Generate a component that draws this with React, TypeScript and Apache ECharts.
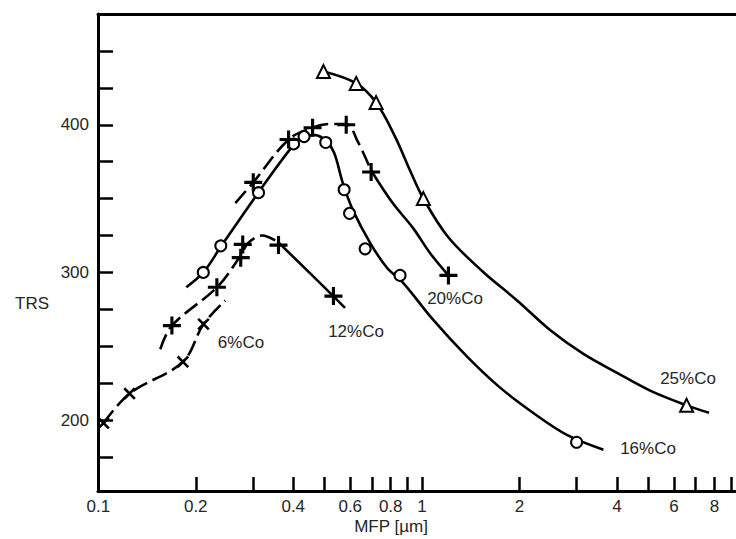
import React, { useEffect, useRef } from "react";
import * as echarts from "echarts";

// ---- axis ticks / labels ----
const X_TICKS = [0.2, 0.3, 0.4, 0.5, 0.6, 0.7, 0.8, 0.9, 1, 2, 3, 4, 5, 6, 7, 8, 9];
const X_LABELS = [0.1, 0.2, 0.4, 0.6, 0.8, 1, 2, 4, 6, 8];
const Y_TICKS = [175, 200, 225, 250, 275, 300, 325, 350, 375, 400, 425, 450];
const Y_LABELS = [200, 300, 400];

// ---- 6%Co (x markers, dashed) ----
const co6Points = [[0.1038, 198], [0.1249, 218], [0.1826, 239.5], [0.2113, 265]];
const co6Curve = [[0.1038, 198], [0.1249, 218], [0.1826, 239.5], [0.2113, 265], [0.2466, 281]];

// ---- 12%Co (+ markers) ----
const co12Points = [[0.1688, 264], [0.2324, 290], [0.2754, 310], [0.2793, 319], [0.3602, 318.5], [0.5324, 284]];
const co12Rise = [[0.1554, 248], [0.1688, 264], [0.2327, 290], [0.2744, 311], [0.2904, 320], [0.3207, 325], [0.3594, 320.5]];
const co12Fall = [[0.3594, 320.5], [0.5318, 284], [0.578, 276]];

// ---- 16%Co (circles, solid) ----
const co16Points = [[0.211, 300], [0.239, 318], [0.3125, 354], [0.401, 387], [0.432, 392], [0.504, 388], [0.5745, 356], [0.597, 340], [0.667, 316], [0.855, 298], [3.0, 185]];
const co16Curve = [[0.187, 290], [0.211, 300], [0.24, 318], [0.312, 354], [0.4, 386], [0.432, 392], [0.4675, 393], [0.5055, 389], [0.535, 381], [0.57, 360], [0.612, 342], [0.691, 320], [0.78, 303], [0.874, 293], [1.081, 268], [1.377, 243], [1.741, 222], [2.2, 205], [2.8, 190], [3.63, 180]];

// ---- 20%Co (+ markers) ----
const co20Points = [[0.301, 361], [0.387, 390], [0.459, 398], [0.583, 400], [0.696, 368], [1.206, 298]];
const co20Rise = [[0.265, 347], [0.301, 361], [0.387, 390], [0.458, 398], [0.52, 400.5], [0.583, 400.5], [0.635, 388], [0.696, 369]];
const co20Fall = [[0.696, 369], [0.808, 347.5], [0.938, 330], [1.059, 313], [1.206, 298]];

// ---- 25%Co (triangles, solid) ----
const co25Points = [[0.496, 436], [0.626, 428], [0.721, 415], [1.009, 350], [6.56, 210]];
const co25Curve = [[0.496, 436], [0.626, 428], [0.721, 415], [0.825, 392], [0.918, 369], [1.009, 350], [1.203, 324], [1.532, 301], [1.965, 281], [2.484, 261], [3.14, 245], [4.0, 232], [5.06, 220], [6.56, 210], [7.69, 205]];

const FONT = '"Liberation Sans", Arial, sans-serif';
const TXT = "#262626";
const PLUS = "path://M0,8.25H20V11.75H0Z M8.25,0H11.75V20H8.25Z";

function lineSeries(data: number[][], dashed: boolean) {
  return {
    type: "line",
    data,
    symbol: "none",
    smooth: 0.35,
    lineStyle: { color: "#000", width: 2.6, type: dashed ? [16, 6] : "solid" },
    z: 2,
  };
}

function markerSeries(data: number[][], symbol: string, size: number, hollow: boolean, rotate = 0) {
  return {
    type: "scatter",
    data,
    symbol,
    symbolSize: size,
    symbolRotate: rotate,
    itemStyle: hollow
      ? { color: "#fff", borderColor: "#000", borderWidth: 2, opacity: 1 }
      : { color: "#000", opacity: 1 },
    z: 3,
  };
}

export default function App() {
  const ref = useRef<HTMLDivElement>(null);
  useEffect(() => {
    if (!ref.current) return;
    const chart = echarts.init(ref.current, null, { renderer: "svg" });
    const axisLine = { show: true, lineStyle: { color: "#000", width: 3 } };
    chart.setOption({
      animation: false,
      backgroundColor: "#fff",
      grid: { left: 98, right: 0, top: 14, bottom: 48, containLabel: false, outerBoundsMode: "none" },
      xAxis: [
        {
          type: "log",
          logBase: 10,
          min: 0.0998,
          max: 9.32,
          axisLine,
          splitLine: { show: false },
          minorTick: { show: false },
          axisTick: { show: true, inside: true, length: 14, lineStyle: { color: "#000", width: 2.5 }, customValues: X_TICKS },
          axisLabel: {
            customValues: X_LABELS,
            margin: 7,
            fontSize: 17,
            fontFamily: FONT,
            color: TXT,
            formatter: (v: number) => String(+Number(v).toFixed(2)),
          },
        },
        {
          type: "log",
          logBase: 10,
          min: 0.0998,
          max: 9.32,
          position: "top",
          axisLine,
          axisTick: { show: false },
          axisLabel: { show: false },
          splitLine: { show: false },
        },
      ],
      yAxis: {
        type: "value",
        min: 152,
        max: 475,
        axisLine,
        splitLine: { show: false },
        axisTick: { show: true, inside: true, length: 15, lineStyle: { color: "#000", width: 2.5 }, customValues: Y_TICKS },
        axisLabel: { customValues: Y_LABELS, margin: 9, fontSize: 17, fontFamily: FONT, color: TXT },
      },
      series: [
        lineSeries(co6Curve, true),
        lineSeries(co12Rise, true),
        lineSeries(co12Fall, false),
        lineSeries(co16Curve, false),
        lineSeries(co20Rise, true),
        lineSeries(co20Fall, false),
        lineSeries(co25Curve, false),
        markerSeries(co6Points, PLUS, 15, false, 45),
        markerSeries(co12Points, PLUS, 18, false),
        markerSeries(co16Points, "circle", 11, true),
        markerSeries(co20Points, PLUS, 18, false),
        markerSeries(co25Points, "triangle", 13, true),
      ],
      graphic: [
        { type: "text", x: 32, y: 303, style: { text: "TRS", align: "center", verticalAlign: "middle", font: `17px ${FONT}`, fill: TXT } },
        { type: "text", x: 391, y: 526, style: { text: "MFP [µm]", align: "center", verticalAlign: "middle", font: `17px ${FONT}`, fill: TXT } },
        { type: "text", x: 241, y: 342, style: { text: "6%Co", align: "center", verticalAlign: "middle", font: `17px ${FONT}`, fill: TXT } },
        { type: "text", x: 356, y: 331, style: { text: "12%Co", align: "center", verticalAlign: "middle", font: `17px ${FONT}`, fill: TXT } },
        { type: "text", x: 455, y: 298, style: { text: "20%Co", align: "center", verticalAlign: "middle", font: `17px ${FONT}`, fill: TXT } },
        { type: "text", x: 688, y: 378, style: { text: "25%Co", align: "center", verticalAlign: "middle", font: `17px ${FONT}`, fill: TXT } },
        { type: "text", x: 648, y: 448, style: { text: "16%Co", align: "center", verticalAlign: "middle", font: `17px ${FONT}`, fill: TXT } },
      ],
    });
    return () => chart.dispose();
  }, []);
  return (
    <div
      ref={ref}
      style={{ position: "fixed", left: 0, top: 0, width: 736, height: 539, background: "#fff" }}
    />
  );
}
